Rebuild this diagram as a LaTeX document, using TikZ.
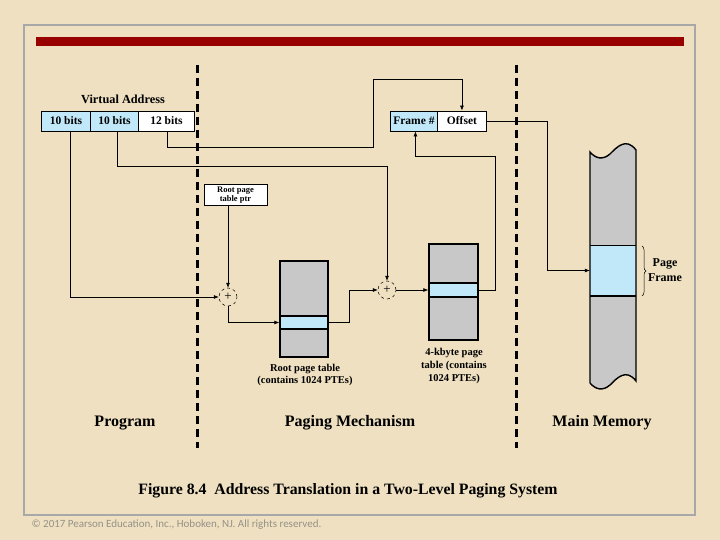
\documentclass[tikz,border=0pt]{standalone}
\usepackage{fontspec}
\setmainfont{Liberation Serif}
\newfontfamily\cpfont{Carlito}
\usetikzlibrary{arrows.meta,calc,decorations.pathreplacing}
\definecolor{bg}{RGB}{238,224,192}
\definecolor{lblue}{RGB}{192,232,248}
\definecolor{tgray}{RGB}{200,200,200}
\definecolor{dred}{RGB}{153,0,0}
\definecolor{fgray}{RGB}{168,168,168}
\definecolor{cpgray}{RGB}{150,146,136}
\begin{document}
\begin{tikzpicture}[x=1pt,y=-1pt,
 field/.style={draw=black,line width=0.9pt,minimum height=20pt,inner sep=0pt,anchor=west,font=\fontsize{11.5}{13}\selectfont\bfseries},
 conn/.style={line width=0.6pt},
 arr/.style={conn,-{Latex[length=5pt,width=4pt]}},
 row/.style={draw=black,line width=1.5pt,fill=lblue,inner sep=0pt},
 tbl/.style={draw=black,line width=1.6pt,fill=tgray},
 sum/.style={circle,draw,dashed,line width=0.5pt,minimum size=18pt,inner sep=0pt,font=\fontsize{13}{13}\selectfont},
 divider/.style={line width=3pt,dash pattern=on 8pt off 5pt},
 lbl/.style={font=\fontsize{10.5}{12}\selectfont\bfseries,align=center},
 big/.style={font=\fontsize{16}{18}\selectfont\bfseries}]
\fill[bg] (0,0) rectangle (720,540);
\useasboundingbox (0,0) rectangle (720,540);
\draw[fgray,line width=2pt] (24,25) rectangle (695,515);
\fill[dred] (36,37) rectangle (684,46);
% dividers
\draw[divider] (197,65) -- (197,448);
\draw[divider] (516,65) -- (516,448);
% virtual address
\node[font=\fontsize{12.3}{14}\selectfont\bfseries] (va) at (123,99) {Virtual Address};
\node[field,fill=lblue,minimum width=49pt] (f1) at (41,121) {10 bits};
\node[field,fill=lblue,minimum width=48pt] (f2) at (90,121) {10 bits};
\node[field,fill=white,minimum width=56pt] (f3) at (138,121) {12 bits};
% physical address
\node[field,fill=lblue,minimum width=47pt] (fr) at (390,121) {Frame \#};
\node[field,fill=white,minimum width=49pt] (off) at (437,121) {Offset};
% root ptr
\node[draw,line width=0.9pt,fill=white,minimum width=63pt,minimum height=21pt,inner sep=0pt,align=center,font=\fontsize{8.5}{9}\selectfont\bfseries] (rp) at (235.5,195) {Root page\\table ptr};
% adders
\node[sum] (s1) at (228,297) {+};
\node[sum] (s2) at (387,290) {+};
% root page table
\draw[tbl] (280,261) rectangle (328,357);
\node[row,minimum width=48pt,minimum height=13pt] (rrow) at (304,322.5) {};
% 4-kbyte page table
\draw[tbl] (429,244) rectangle (478,340);
\node[row,minimum width=49pt,minimum height=14pt] (krow) at (453.5,290) {};
% main memory
\path[fill=tgray] (590,152) .. controls (596,159) and (603,160) .. (610,154) .. controls (617,147) and (626,137) .. (636,150) -- (636,381) .. controls (626,368) and (617,378) .. (610,385) .. controls (603,391) and (596,390) .. (590,383) -- cycle;
\node[fill=lblue,minimum width=46pt,minimum height=51pt,inner sep=0pt] (pf) at (613,270.5) {};
\draw[line width=0.6pt] (590,245) -- (636,245);
\draw[line width=1.5pt] (590,296) -- (636,296);
\draw[line width=1.4pt] (590,383) -- (590,152) .. controls (596,159) and (603,160) .. (610,154) .. controls (617,147) and (626,137) .. (636,150) -- (636,381) .. controls (626,368) and (617,378) .. (610,385) .. controls (603,391) and (596,390) .. (590,383);
\draw[line width=0.5pt,decorate,decoration={brace,amplitude=4pt}] (642,246) -- (642,296);
\node[font=\fontsize{12}{15}\selectfont\bfseries,align=center] (pfl) at (665,270) {Page\\Frame};
% connectors
\draw[arr] ([xshift=4.5pt]f1.south) |- (s1.west);
\draw[arr] ([xshift=3pt]f2.south) -- ++(0,35) -| (s2.north);
\draw[arr] ([xshift=1pt]f3.south) -- ++(0,16) -| (373,79) -| (off.north);
\draw[arr] (s1.north |- rp.south) -- (s1.north);
\draw[arr] (s1.south) |- (rrow.west);
\draw[arr] (rrow.east) -- ++(21,0) |- (s2.west);
\draw[arr] (s2.east) -- (krow.west);
\draw[arr] (krow.east) -- ++(17,0) -- ++(0,-134) -| ([xshift=1.5pt]fr.south);
\draw[arr] (off.east) -- ++(60,0) |- (pf.west);
% labels
\node[lbl] (rtl) at (305,375) {Root page table\\(contains 1024 PTEs)};
\node[lbl,font=\fontsize{10.5}{13}\selectfont\bfseries] (ktl) at (454,366) {4-kbyte page\\table (contains\\1024 PTEs)};
\node[big] (prog) at (125,423) {Program};
\node[big] (pm) at (350,423) {Paging Mechanism};
\node[big] (mm) at (602,423) {Main Memory};
\node[big,font=\fontsize{15.8}{18}\selectfont\bfseries] (cap) at (348,491) {Figure 8.4\enspace Address Translation in a Two-Level Paging System};
\node[anchor=west,text=cpgray,font=\cpfont\fontsize{11}{13}\selectfont] (cp) at (28,525) {© 2017 Pearson Education, Inc., Hoboken, NJ. All rights reserved.};
\end{tikzpicture}
\end{document}
